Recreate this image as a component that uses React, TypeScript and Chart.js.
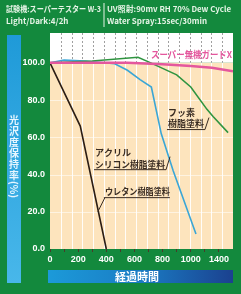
import React, { useEffect, useRef } from "react";
import { Chart, registerables } from "chart.js";
Chart.register(...registerables);

// ---- data ----
const HOURS_SUPER = [0, 550, 800, 1000, 1150, 1300];
const GLOSS_SUPER = [100, 100, 99.2, 98.3, 97.3, 95.5];
const HOURS_FLUORO = [0, 300, 625, 700, 800, 900, 1000, 1115, 1160, 1265];
const GLOSS_FLUORO = [100, 101, 103, 100.5, 97, 93.5, 87, 75, 71, 62.5];
const HOURS_ACRYL = [0, 100, 250, 460, 550, 640, 720, 790, 875, 1037];
const GLOSS_ACRYL = [100, 101.5, 101, 99.5, 96, 91, 87, 62, 42, 8];
const HOURS_URETHANE = [0, 215, 400];
const GLOSS_URETHANE = [100, 66, 0];

const Y_TICKS = [0, 20, 40, 60, 80, 100];
const X_MARKS = [0, 100, 200, 300, 400, 500, 600, 700, 800, 900, 1000, 1100, 1200];
const X_TICK_VALUES = [0, 200, 400, 600, 800, 1000, 1200];
const X_TICK_LABELS = ["0", "200", "400", "600", "800", "1000", "1400"];

const HEADER_1A = "試験機:スーパーテスター W-3";
const HEADER_1B = "UV照射:90mv RH 70% Dew Cycle";
const HEADER_2A = "Light/Dark:4/2h";
const HEADER_2B = "Water Spray:15sec/30min";
const Y_TITLE = "光沢度保持率";
const Y_TITLE_UNIT = "(%)";
const X_TITLE = "経過時間";
const NAME_SUPER = "スーパー無機ガードX";
const NAME_FLUORO = ["フッ素", "樹脂塗料"];
const NAME_ACRYL = ["アクリル", "シリコン樹脂塗料"];
const NAME_URETHANE = ["ウレタン樹脂塗料"];

const pts = (xs: number[], ys: number[]) => xs.map((x, i) => ({ x, y: ys[i] }));

const GREEN = "#13893d";
const PEACH = "#fde4bd";
const JP = "'Noto Sans CJK JP', 'Noto Sans', sans-serif";

const decor = {
  id: "decor",
  beforeDraw(chart: any) {
    const { ctx, chartArea: a, scales } = chart;
    const ys = scales.y, xs = scales.x, g = scales.g;
    ctx.save();
    ctx.fillStyle = GREEN;
    ctx.fillRect(0, 0, chart.width, chart.height);

    // header
    ctx.fillStyle = "#e6f4e6";
    ctx.font = `bold 8px ${JP}`;
    ctx.textBaseline = "middle";
    ctx.textAlign = "left";
    ctx.fillText(HEADER_1A, 6, 8.5, 95);
    ctx.fillText(HEADER_1B, 107, 8.5, 124);
    ctx.fillText(HEADER_2A, 6, 21, 66);
    ctx.fillText(HEADER_2B, 107, 21, 100);
    ctx.fillRect(103.5, 3, 1, 24);

    // left title bar
    const lg = ctx.createLinearGradient(0, 35, 0, 283);
    lg.addColorStop(0, "#1f9ad8");
    lg.addColorStop(1, "#48b7ea");
    ctx.fillStyle = lg;
    ctx.fillRect(7, 35, 14, 248);
    ctx.fillStyle = "#e6f6ff";
    ctx.font = `bold 10px ${JP}`;
    ctx.textAlign = "center";
    const chars = Array.from(Y_TITLE);
    const total = chars.length * 11 + 18;
    let cy = 157 - total / 2 + 5.5;
    chars.forEach((c) => {
      ctx.fillText(c, 14, cy);
      cy += 11;
    });
    ctx.save();
    ctx.translate(14, cy + 3);
    ctx.rotate(Math.PI / 2);
    ctx.fillText(Y_TITLE_UNIT, 0, 0);
    ctx.restore();

    // bottom title bar
    const bg = ctx.createLinearGradient(48, 0, 233, 0);
    bg.addColorStop(0, "#1c9ad9");
    bg.addColorStop(0.5, "#1a7cc4");
    bg.addColorStop(1, "#1b418f");
    ctx.fillStyle = bg;
    ctx.fillRect(48, 270, 185, 13);
    ctx.fillStyle = "#ffffff";
    ctx.font = `bold 11px ${JP}`;
    ctx.fillText(X_TITLE, 137, 277);

    // plot background
    const y100 = ys.getPixelForValue(100);
    ctx.fillStyle = "#ffffff";
    ctx.fillRect(a.left, a.top, a.right - a.left, y100 - a.top);
    ctx.fillStyle = PEACH;
    ctx.fillRect(a.left, y100, a.right - a.left, a.bottom - y100);

    // horizontal faint grid
    ctx.strokeStyle = "rgba(255,255,255,0.55)";
    ctx.lineWidth = 1;
    [20, 40, 60, 80].forEach((v) => {
      const py = Math.round(ys.getPixelForValue(v)) + 0.5;
      ctx.beginPath();
      ctx.moveTo(a.left, py);
      ctx.lineTo(a.right, py);
      ctx.stroke();
    });
    // vertical grid
    for (let i = 1; i < 17; i++) {
      const px = Math.round(g.getPixelForValue(i)) + 0.5;
      ctx.strokeStyle = "rgba(255,255,255,0.9)";
      ctx.setLineDash([]);
      ctx.beginPath();
      ctx.moveTo(px, y100);
      ctx.lineTo(px, a.bottom);
      ctx.stroke();
      ctx.strokeStyle = "#a0a0a0";
      ctx.setLineDash([2, 2]);
      ctx.beginPath();
      ctx.moveTo(px, a.top);
      ctx.lineTo(px, y100);
      ctx.stroke();
    }
    ctx.restore();
  },
  afterDatasetsDraw(chart: any) {
    const { ctx, chartArea: a, scales } = chart;
    const xs = scales.x, ys = scales.y;
    ctx.save();
    // super label
    ctx.fillStyle = "#e4579d";
    ctx.font = `bold 9.5px ${JP}`;
    ctx.textAlign = "right";
    ctx.textBaseline = "middle";
    ctx.fillText(NAME_SUPER, a.right - 1, ys.getPixelForValue(104.3), 81);

    const ink = "#3a2c22";
    ctx.fillStyle = ink;
    ctx.strokeStyle = ink;
    ctx.lineWidth = 1;
    ctx.textAlign = "left";
    ctx.font = `bold 9px ${JP}`;
    const drawLabel = (
      lines: string[], ax: number, ay: number, lh: number,
      ulw: number, ulDy: number, lead: [number, number, number, number], maxW: number
    ) => {
      const px = xs.getPixelForValue(ax), py = ys.getPixelForValue(ay);
      lines.forEach((l, i) => ctx.fillText(l, px, py + i * lh, maxW));
      const uy = py + (lines.length - 1) * lh + ulDy;
      ctx.beginPath();
      ctx.moveTo(px - 1, uy);
      ctx.lineTo(px + ulw, uy);
      ctx.moveTo(px + lead[0], uy + lead[1]);
      ctx.lineTo(px + lead[2], uy + lead[3]);
      ctx.stroke();
    };
    drawLabel(NAME_FLUORO, 838, 73, 11, 37, 5.5, [37, 0, 41, -12], 37);
    drawLabel(NAME_ACRYL, 320, 52, 12, 71, 5.5, [71, 0, 75, -13], 70);
    drawLabel(NAME_URETHANE, 390, 30.8, 12, 65, 6, [0, 0, -7, 14], 65);
    ctx.restore();
  },
};

export default function App() {
  const ref = useRef<HTMLCanvasElement>(null);
  useEffect(() => {
    document.body.style.margin = "0";
    const c = new Chart(ref.current!, {
      type: "line",
      data: {
        datasets: [
          { label: NAME_SUPER, data: pts(HOURS_SUPER, GLOSS_SUPER), borderColor: "#e4579d", borderWidth: 2.5 },
          { label: NAME_URETHANE[0], data: pts(HOURS_URETHANE, GLOSS_URETHANE), borderColor: "#2b1d14", borderWidth: 1.6 },
          { label: NAME_FLUORO.join(""), data: pts(HOURS_FLUORO, GLOSS_FLUORO), borderColor: "#2f9440", borderWidth: 1.6 },
          { label: NAME_ACRYL.join(""), data: pts(HOURS_ACRYL, GLOSS_ACRYL), borderColor: "#3aa6d6", borderWidth: 1.6 },
        ].map((d) => ({ ...d, pointRadius: 0, tension: 0, fill: false })),
      },
      options: {
        animation: false,
        responsive: false,
        events: [],
        layout: { padding: { left: 0, top: 33, right: 8, bottom: 25 } },
        plugins: { legend: { display: false }, tooltip: { enabled: false } },
        scales: {
          x: {
            type: "linear",
            min: 0,
            max: 1300,
            afterBuildTicks: (s: any) => { s.ticks = X_MARKS.map((v) => ({ value: v })); },
            afterFit: (s: any) => { s.height = 20; },
            ticks: {
              autoSkip: false,
              maxRotation: 0,
              padding: 2,
              color: "#ffffff",
              font: { size: 9, weight: "bold", family: "'Liberation Sans', Arial" },
              callback: (v: any) => {
                const i = X_TICK_VALUES.indexOf(v);
                return i >= 0 ? X_TICK_LABELS[i] : "";
              },
            },
            grid: { drawOnChartArea: false, drawTicks: true, tickLength: 3, color: "#4a3a2a" },
            border: { display: false },
          },
          g: { type: "linear", axis: "x", min: 0, max: 17, display: false },
          y: {
            min: 0,
            max: 116,
            afterBuildTicks: (s: any) => { s.ticks = Y_TICKS.map((v) => ({ value: v })); },
            afterFit: (s: any) => { s.width = 50; },
            ticks: {
              padding: 5,
              color: "#ffffff",
              font: { size: 9, weight: "bold", family: "'Liberation Sans', Arial" },
              callback: (v: any) => Number(v).toFixed(1),
            },
            grid: { display: false, drawTicks: false },
            border: { display: false },
          },
        },
      },
      plugins: [decor],
    } as any);
    return () => c.destroy();
  }, []);
  return <canvas ref={ref} width={241} height={294} style={{ display: "block", width: 241, height: 294 }} />;
}
